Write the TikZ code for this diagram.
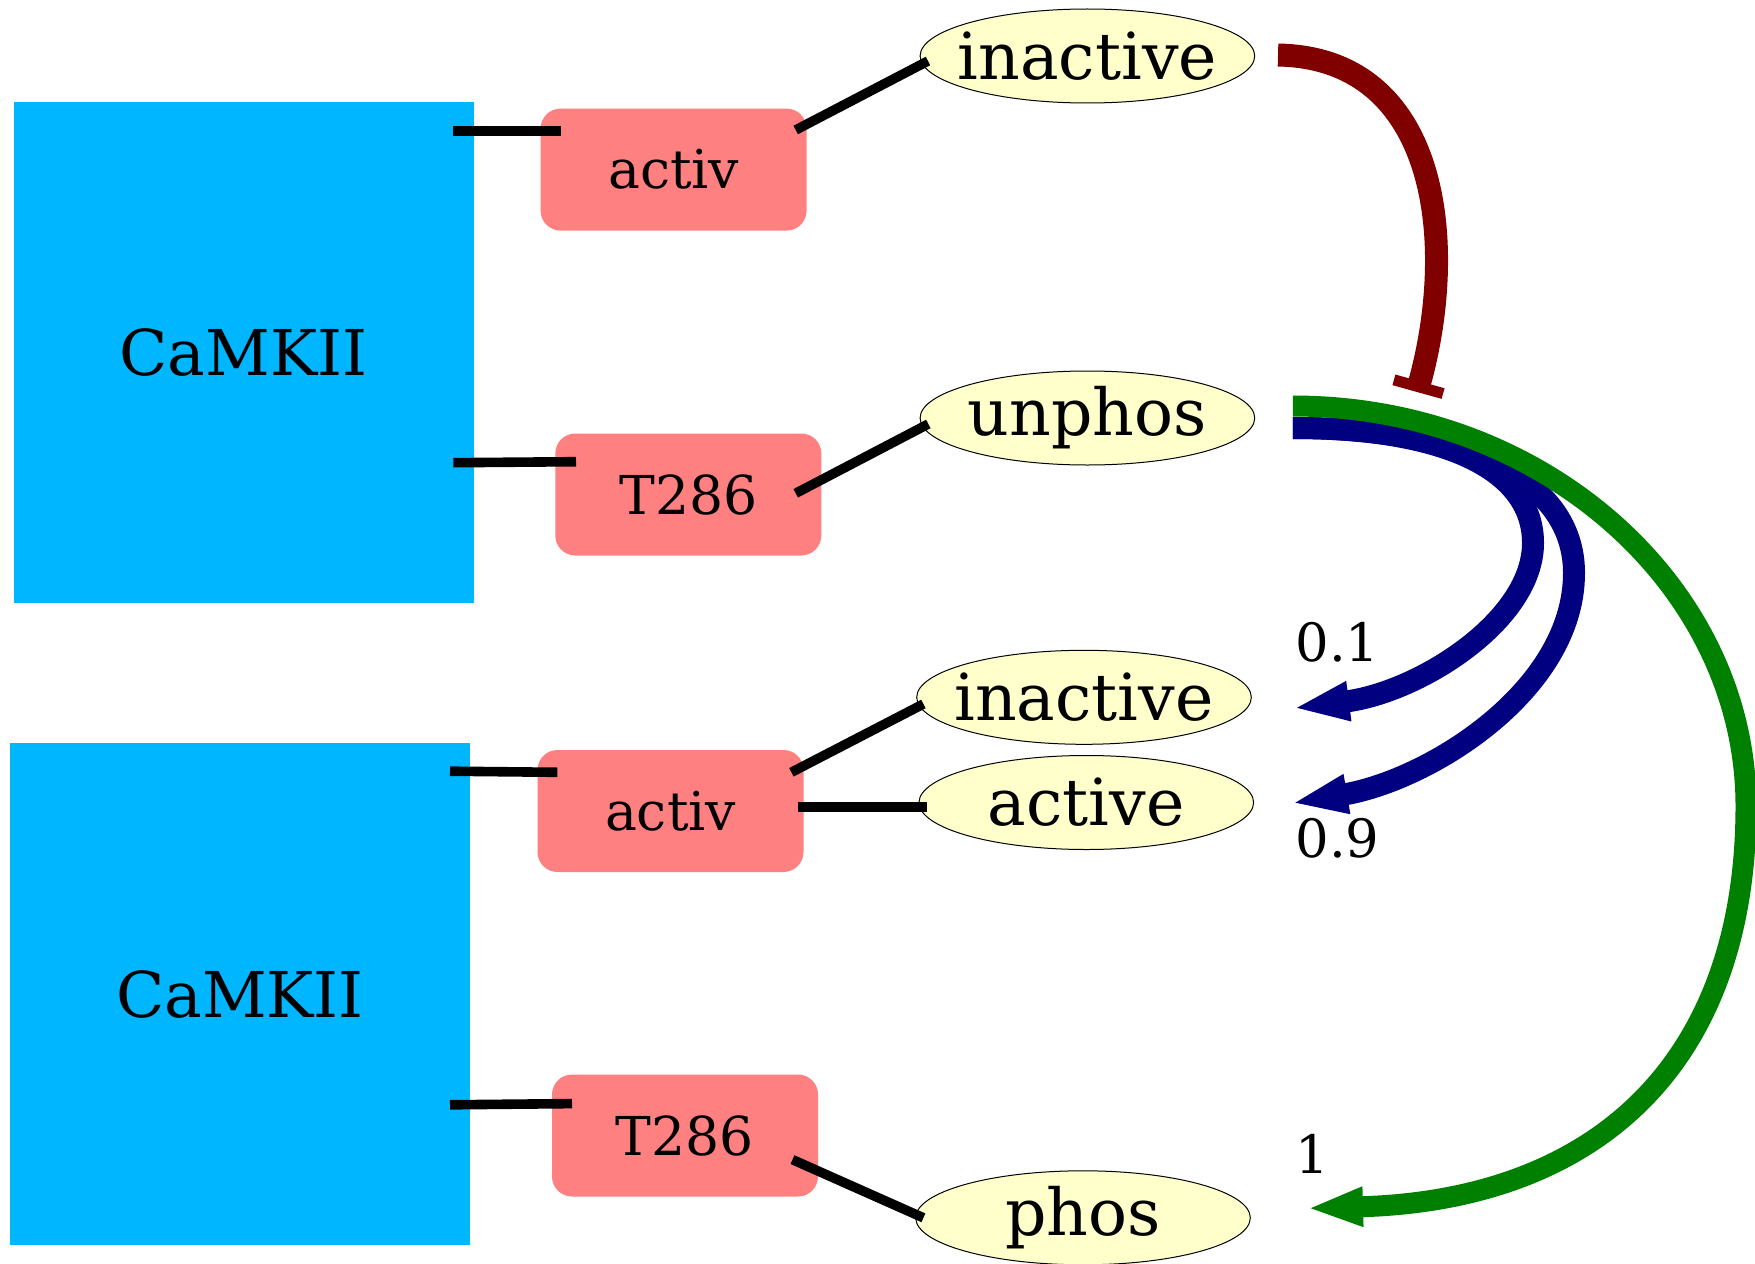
\documentclass[tikz,border=0pt]{standalone}
\usepackage{fontspec}
\setmainfont{DejaVu Serif}
\usetikzlibrary{shapes.geometric,arrows.meta}
\definecolor{sqblue}{RGB}{0,183,255}
\definecolor{boxred}{RGB}{255,128,128}
\definecolor{ellfill}{RGB}{255,255,204}
\definecolor{inhib}{RGB}{128,0,0}
\definecolor{fwdgreen}{RGB}{0,128,0}
\definecolor{fwdblue}{RGB}{0,0,128}
\newcommand{\zw}[1]{\makebox[0pt][c]{#1}}
\begin{document}
\begin{tikzpicture}[x=0.5pt,y=-0.5pt,
  complex/.style={rectangle,fill=sqblue,minimum width=230pt,minimum height=250.7pt,inner sep=0pt,font=\fontsize{31.6}{36}\selectfont},
  site/.style={rectangle,rounded corners=10pt,fill=boxred,minimum width=133pt,minimum height=61pt,inner sep=0pt,font=\fontsize{26.8}{30}\selectfont},
  state/.style={ellipse,draw=black,line width=0.5pt,fill=ellfill,minimum width=167.3pt,minimum height=47pt,inner sep=0pt,font=\fontsize{32.4}{36}\selectfont},
  link/.style={draw=black,line width=4.8pt},
  inhibit/.style={draw=inhib,line width=11.5pt,-{Bar[width=25.5pt,line width=5.5pt]}},
  reactg/.style={draw=fwdgreen,line width=10.5pt,-{Triangle[length=28pt,width=18pt]}},
  reactb/.style={draw=fwdblue,line width=11pt,-{Triangle[length=28pt,width=18pt]}},
  prob/.style={font=\fontsize{26.4}{30}\selectfont,inner sep=0pt}
]
\useasboundingbox (0,0) rectangle (1755,1263);

% upper complex
\node[complex] (sq1) at (243.5,352.6) {CaMKII};
\node[site] (act1) at (673.6,169.6) {activ};
\node[site] (thr1) at (688.3,494.5) {T286};
\node[state] (inact1) at (1087.4,56) {\zw{inactive}};
\node[state] (unph) at (1087.4,418) {\zw{unphos}};

% lower complex
\node[complex] (sq2) at (240,994) {CaMKII};
\node[site] (act2) at (670.5,811) {activ};
\node[site] (thr2) at (685,1135.5) {T286};
\node[state] (inact2) at (1084,697.3) {\zw{inactive}};
\node[state] (actv) at (1086.3,802.5) {\zw{active}};
\node[state] (phos) at (1083,1217.8) {\zw{phos}};

% connector ends
\coordinate (c1a) at (453.3,131);   \coordinate (c1b) at (561,131);
\coordinate (c2a) at (795.7,130);   \coordinate (c2b) at (928,61);
\coordinate (c3a) at (453.3,462.7); \coordinate (c3b) at (576,461.7);
\coordinate (c4a) at (795.7,493.3); \coordinate (c4b) at (928.3,424);
\coordinate (c5a) at (450,771.2);   \coordinate (c5b) at (557.4,772.3);
\coordinate (c6a) at (791.4,772.3); \coordinate (c6b) at (923.4,704);
\coordinate (c7a) at (798,807);     \coordinate (c7b) at (926.8,807);
\coordinate (c8a) at (450,1104.8);  \coordinate (c8b) at (572,1103.6);
\coordinate (c9a) at (792.5,1159.6); \coordinate (c9b) at (923.4,1217.8);

\draw[link] (c1a) -- (c1b);
\draw[link] (c2a) -- (c2b);
\draw[link] (c3a) -- (c3b);
\draw[link] (c4a) -- (c4b);
\draw[link] (c5a) -- (c5b);
\draw[link] (c6a) -- (c6b);
\draw[link] (c7a) -- (c7b);
\draw[link] (c8a) -- (c8b);
\draw[link] (c9a) -- (c9b);

% reaction arrows
\coordinate (mstart) at (1278,55);
\coordinate (mend) at (1417,392);
\coordinate (gstart) at (1292.8,406);
\coordinate (gmid) at (1746,806);
\coordinate (gend) at (1307,1208.3);
\coordinate (bstart) at (1292.8,428);
\coordinate (b1mid) at (1533,543);
\coordinate (b1end) at (1293.3,708.3);
\coordinate (b2mid) at (1574,573);
\coordinate (b2end) at (1291.7,803.3);

\draw[inhibit] (mstart) .. controls (1440,58) and (1458,245) .. (mend);
\draw[reactb] (bstart) .. controls (1450,428) and (1533,472) .. (b1mid)
  .. controls (1533,620) and (1420,692) .. (b1end);
\draw[reactb] (bstart) .. controls (1470,428) and (1574,482) .. (b2mid)
  .. controls (1574,690) and (1430,780) .. (b2end);
\draw[reactg] (gstart) .. controls (1545,406) and (1746,588) .. (gmid)
  .. controls (1746,1060) and (1600,1200) .. (gend);

\node[prob,anchor=base west] (p1) at (1295,661.7) {0.1};
\node[prob,anchor=base west] (p2) at (1295,857.3) {0.9};
\node[prob,anchor=base west] (p3) at (1295,1173.3) {1};
\end{tikzpicture}
\end{document}
